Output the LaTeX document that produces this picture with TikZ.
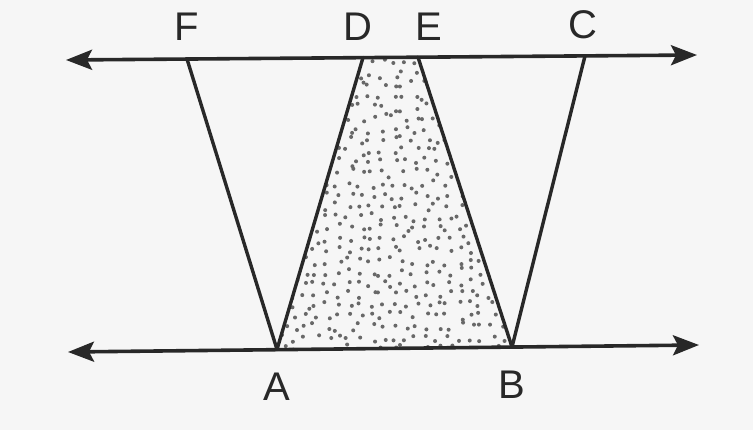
\documentclass[tikz,border=0pt]{standalone}
\usepackage{fontspec}
\setmainfont{Liberation Sans}
\usetikzlibrary{arrows.meta}
\definecolor{ink}{RGB}{40,40,40}
\definecolor{paper}{RGB}{246,246,246}
\begin{document}
\begin{tikzpicture}[x=1pt,y=-1pt,
  seg/.style={line width=3.4pt, draw=ink, line cap=round},
  axis/.style={line width=3.6pt, draw=ink,
    {Stealth[length=26pt,width=20pt,inset=5pt]}-{Stealth[length=26pt,width=20pt,inset=5pt]}},
  lbl/.style={font=\fontsize{40}{40}\selectfont, text=ink, inner sep=0pt},
  dot/.style={fill=ink!70}]
\fill[paper] (0,0) rectangle (753,430);
\useasboundingbox (0,0) rectangle (753,430);
% points
\coordinate (TL) at (66,60);
\coordinate (TR) at (697,55);
\coordinate (BL) at (68,352);
\coordinate (BR) at (699,345);
\coordinate (F) at (187,59);
\coordinate (D) at (363,57.6);
\coordinate (E) at (418,57.2);
\coordinate (C) at (585,56);
\coordinate (A) at (277,349.5);
\coordinate (B) at (512,347);
% dotted fill (jittered grid stipple)
\begin{scope}
  \clip (A) -- (D) -- (E) -- (B) -- cycle;
  \pgfmathsetseed{12}
  \foreach \gx in {272,283,...,518} {
    \foreach \gy in {52,63,...,352} {
      \pgfmathsetmacro\px{\gx+9*rnd-4.5}
      \pgfmathsetmacro\py{\gy+9*rnd-4.5}
      \fill[dot] (\px,\py) circle (2.0pt);
    }
  }
\end{scope}
% lines
\draw[axis] (TL) -- (TR);
\draw[axis] (BL) -- (BR);
\draw[seg] (F) -- (A);
\draw[seg] (A) -- (D);
\draw[seg] (E) -- (B);
\draw[seg] (B) -- (C);
% labels
\node[lbl] (lF) at (187,27) {F};
\node[lbl] (lD) at (358,27) {D};
\node[lbl] (lE) at (429,27) {E};
\node[lbl] (lC) at (583,25) {C};
\node[lbl] (lA) at (277,387) {A};
\node[lbl] (lB) at (512,385) {B};
\end{tikzpicture}
\end{document}
